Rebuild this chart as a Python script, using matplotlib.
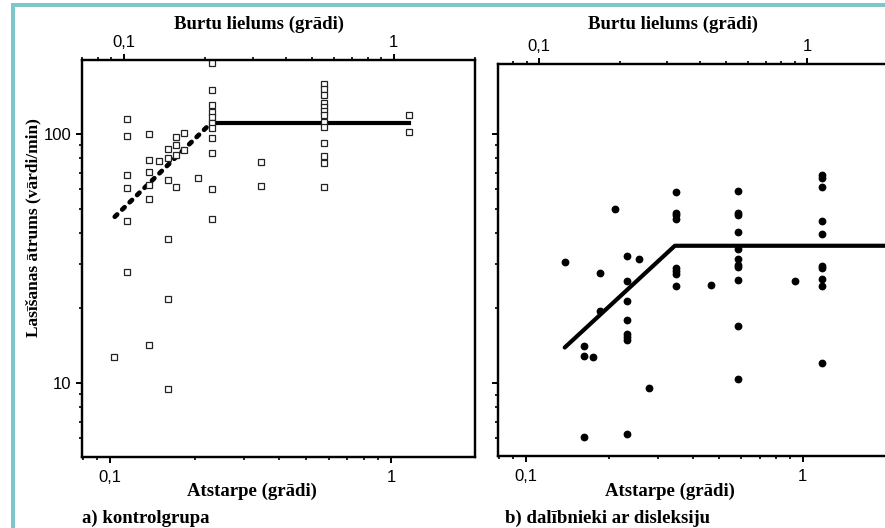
import matplotlib
matplotlib.use('Agg')
import matplotlib.pyplot as plt
from matplotlib.ticker import FixedLocator, FixedFormatter, LogLocator, NullFormatter
from matplotlib.patches import Rectangle

# Control group: spacing (deg) and the reading rates measured at each spacing
ctrl_x = [0.103, 0.115, 0.138, 0.149, 0.161, 0.172, 0.184, 0.206, 0.230, 0.346, 0.576, 1.155]
ctrl_y = [
    [12.7],
    [114.9, 98.4, 68.4, 60.5, 44.7, 27.8],
    [100, 78.9, 70.2, 62.4, 54.8, 14.2],
    [77.7],
    [87.0, 80.1, 65.3, 38.0, 21.8, 9.45],
    [97, 90.6, 82.3, 61.4],
    [101, 86.2],
    [66.5],
    [192, 149.8, 130.9, 122.9, 117.4, 110.9, 105.4, 96.6, 83.9, 60.0, 45.6],
    [77.0, 61.7],
    [158.5, 151, 143.4, 133.5, 128, 124, 119.2, 112, 107, 92.3, 81.6, 76.7, 61.2],
    [119.5, 101.6],
]
ctrl_fit_x = [0.104, 0.229, 1.155]
ctrl_fit_y = [46.5, 110.7, 110.7]

# Dyslexic group
dys_x = [0.138, 0.162, 0.174, 0.185, 0.209, 0.232, 0.256, 0.278, 0.347, 0.466, 0.584, 0.935, 1.174]
dys_y = [
    [30.5],
    [14.1, 12.9, 6.1],
    [12.7],
    [27.8, 19.5],
    [50.1],
    [32.4, 25.7, 21.3, 17.9, 15.7, 15.35, 14.9, 6.26],
    [31.4],
    [9.58],
    [58.3, 48.3, 47.2, 45.8, 29.1, 28.3, 27.3, 24.5],
    [24.8],
    [59.2, 48.3, 47.3, 40.3, 34.5, 31.4, 29.8, 29.2, 25.9, 17.0, 10.4],
    [25.6],
    [68.4, 66.4, 61.4, 44.6, 39.6, 29.5, 28.9, 26.2, 24.5, 12.1],
]
dys_fit_x = [0.138, 0.345, 2.5]
dys_fit_y = [13.9, 35.6, 35.6]

x_ticks = [0.1, 1]
x_ticklabels = ['0,1', '1']
y_ticks = [10, 100]
y_ticklabels = ['10', '100']

W, H = 885, 528
SERIF = 'Liberation Serif'
SANS = 'Liberation Sans'
plt.rcParams['font.family'] = SANS


def px_box(x0, y0, x1, y1):
    return [x0 / W, 1 - y1 / H, (x1 - x0) / W, (y1 - y0) / H]


def flatten(xs, ys):
    px, py = [], []
    for x, col in zip(xs, ys):
        for y in col:
            px.append(x)
            py.append(y)
    return px, py


def style_axis(ax, which):
    axis = ax.xaxis if which == 'x' else ax.yaxis
    axis.set_major_locator(FixedLocator(x_ticks if which == 'x' else y_ticks))
    axis.set_major_formatter(FixedFormatter(x_ticklabels if which == 'x' else y_ticklabels))
    axis.set_minor_locator(LogLocator(base=10, subs=[2, 3, 4, 5, 6, 7, 8, 9], numticks=20))
    axis.set_minor_formatter(NullFormatter())


def make_panel(box, xlim, ylim, top_xlim, ylabels=True):
    ax = fig.add_axes(px_box(*box))
    ax.set_xscale('log')
    ax.set_yscale('log')
    ax.set_xlim(xlim)
    ax.set_ylim(ylim)
    style_axis(ax, 'x')
    style_axis(ax, 'y')
    for s in ax.spines.values():
        s.set_linewidth(1.6)
    ax.tick_params(which='major', direction='out', length=4.5, width=1.4, labelsize=12)
    ax.tick_params(which='minor', direction='out', length=2.5, width=1.2)
    ax.tick_params(axis='x', which='major', pad=5)
    ax.tick_params(axis='y', which='major', pad=3, labelleft=ylabels)
    top = ax.twiny()
    top.set_xscale('log')
    top.set_xlim(top_xlim)
    style_axis(top, 'x')
    for s in top.spines.values():
        s.set_linewidth(1.6)
    top.tick_params(which='major', direction='out', length=4.5, width=1.4, labelsize=12, pad=2.5)
    top.tick_params(which='minor', direction='out', length=2.5, width=1.2)
    return ax


fig = plt.figure(figsize=(W / 100, H / 100), dpi=100)

# a) control group
ax1 = make_panel((82, 60, 475, 457), (0.0795, 1.99), (5.05, 198), (0.070, 2.0))
cx, cy = flatten(ctrl_x, ctrl_y)
ax1.plot(cx, cy, 's', ms=4, mfc='white', mec='#222222', mew=0.9, zorder=3)
ax1.plot(ctrl_fit_x[:2], ctrl_fit_y[:2], color='black', lw=3.4,
         dashes=(0.7, 1.5), dash_capstyle='round', zorder=2)
ax1.plot(ctrl_fit_x[1:], ctrl_fit_y[1:], color='black', lw=3.0, zorder=2)

# b) dyslexic group
ax2 = make_panel((498, 64, 889, 456), (0.0792, 2.05), (5.1, 191), (0.0703, 2.02), ylabels=False)
dx, dy = flatten(dys_x, dys_y)
ax2.plot(dx, dy, 'o', ms=4.6, color='black', zorder=3)
ax2.plot(dys_fit_x, dys_fit_y, color='black', lw=3.0, solid_capstyle='round', zorder=2)

label_font = dict(family=SERIF, fontweight='bold', fontsize=13.5)
fig.text(259 / W, 1 - 24 / H, 'Burtu lielums (grādi)', ha='center', va='center', **label_font)
fig.text(673 / W, 1 - 24 / H, 'Burtu lielums (grādi)', ha='center', va='center', **label_font)
fig.text(252 / W, 1 - 491 / H, 'Atstarpe (grādi)', ha='center', va='center', **label_font)
fig.text(670 / W, 1 - 491 / H, 'Atstarpe (grādi)', ha='center', va='center', **label_font)
fig.text(33 / W, 1 - 228 / H, 'Lasīšanas ātrums (vārdi/min)', ha='center', va='center',
         rotation=90, family=SERIF, fontweight='bold', fontsize=12.5)
fig.text(82 / W, 1 - 518 / H, 'a) kontrolgrupa', ha='left', va='center', **label_font)
fig.text(505 / W, 1 - 518 / H, 'b) dalībnieki ar disleksiju', ha='left', va='center', **label_font)

# teal frame around the figure
teal = '#7ec6ca'
fig.add_artist(Rectangle((11 / W, 0), 4 / W, 1 - 3 / H, transform=fig.transFigure,
                         color=teal, lw=0))
fig.add_artist(Rectangle((11 / W, 1 - 7 / H), 1 - 11 / W, 4 / H, transform=fig.transFigure,
                         color=teal, lw=0))

fig.savefig('out.png', dpi=100)
